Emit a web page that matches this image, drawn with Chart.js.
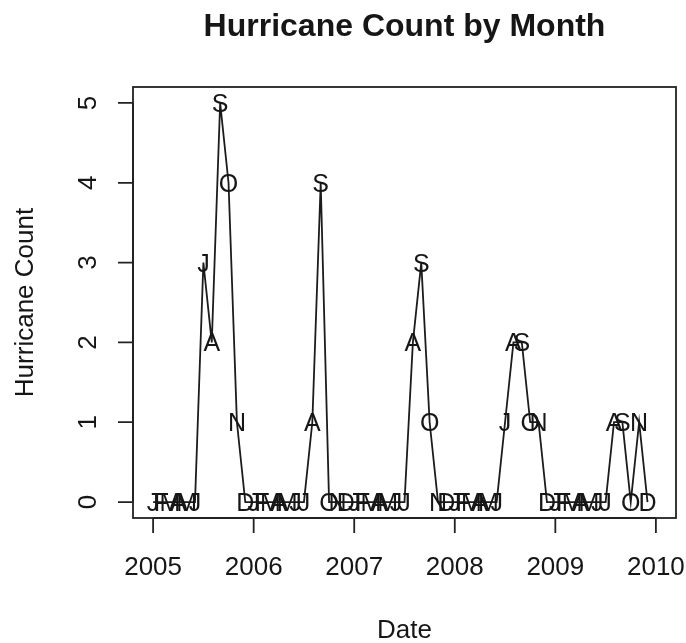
<!DOCTYPE html>
<html>
<head>
<meta charset="utf-8">
<script src="https://cdn.jsdelivr.net/npm/chart.js@4.4.1/dist/chart.umd.min.js"></script>
<style>
  body { margin: 0; background: #fff; }
  canvas { display: block; }
</style>
</head>
<body>
<canvas id="hurricanes" width="686" height="643"></canvas>
<script>
// monthly hurricane counts, one array per year
const years = [2005, 2006, 2007, 2008, 2009];
const monthLetters = ["J", "F", "M", "A", "M", "J", "J", "A", "S", "O", "N", "D"];
const counts2005 = [0, 0, 0, 0, 0, 0, 3, 2, 5, 4, 1, 0];
const counts2006 = [0, 0, 0, 0, 0, 0, 0, 1, 4, 0, 0, 0];
const counts2007 = [0, 0, 0, 0, 0, 0, 0, 2, 3, 1, 0, 0];
const counts2008 = [0, 0, 0, 0, 0, 0, 1, 2, 2, 1, 1, 0];
const counts2009 = [0, 0, 0, 0, 0, 0, 0, 1, 1, 0, 1, 0];
const yTicks = [0, 1, 2, 3, 4, 5];
const xTicks = [2005, 2006, 2007, 2008, 2009, 2010];

const countsByYear = [counts2005, counts2006, counts2007, counts2008, counts2009];
const points = [];
const letters = [];
years.forEach((yr, yi) => {
    countsByYear[yi].forEach((n, m) => {
        points.push({ x: yr + m / 12, y: n });
        letters.push(monthLetters[m]);
    });
});

const FONT = '"Liberation Sans", Arial, sans-serif';
const INK = "#161616";

// month letters drawn on top of the line (like R's type = "o")
const letterMarks = {
    id: "letterMarks",
    afterDatasetsDraw(chart) {
        const ctx = chart.ctx;
        const meta = chart.getDatasetMeta(0);
        ctx.save();
        ctx.fillStyle = INK;
        ctx.font = "25px " + FONT;
        ctx.textAlign = "center";
        ctx.textBaseline = "alphabetic";
        meta.data.forEach((pt, i) => {
            ctx.fillText(letters[i], pt.x, pt.y + 9);
        });
        ctx.restore();
    }
};

// box, ticks and labels in the style of base R graphics
const rAxes = {
    id: "rAxes",
    afterDraw(chart) {
        const ctx = chart.ctx;
        const a = chart.chartArea;
        const xs = chart.scales.x;
        const ys = chart.scales.y;
        const cx = (a.left + a.right) / 2;
        ctx.save();
        ctx.strokeStyle = "#222";
        ctx.lineWidth = 1.8;
        ctx.strokeRect(a.left, a.top, a.right - a.left, a.bottom - a.top);

        ctx.fillStyle = INK;
        ctx.font = "26px " + FONT;

        // x axis
        ctx.beginPath();
        ctx.moveTo(xs.getPixelForValue(xTicks[0]), a.bottom);
        ctx.lineTo(xs.getPixelForValue(xTicks[xTicks.length - 1]), a.bottom);
        xTicks.forEach(t => {
            const px = xs.getPixelForValue(t);
            ctx.moveTo(px, a.bottom);
            ctx.lineTo(px, a.bottom + 15);
        });
        ctx.stroke();
        ctx.textAlign = "center";
        xTicks.forEach(t => {
            ctx.fillText(String(t), xs.getPixelForValue(t), a.bottom + 57);
        });

        // y axis
        ctx.beginPath();
        ctx.moveTo(a.left, ys.getPixelForValue(yTicks[0]));
        ctx.lineTo(a.left, ys.getPixelForValue(yTicks[yTicks.length - 1]));
        yTicks.forEach(t => {
            const py = ys.getPixelForValue(t);
            ctx.moveTo(a.left, py);
            ctx.lineTo(a.left - 15, py);
        });
        ctx.stroke();
        yTicks.forEach(t => {
            ctx.save();
            ctx.translate(a.left - 37, ys.getPixelForValue(t));
            ctx.rotate(-Math.PI / 2);
            ctx.fillText(String(t), 0, 0);
            ctx.restore();
        });

        // axis titles
        ctx.fillText("Date", cx, 638);
        ctx.save();
        ctx.translate(33, (a.top + a.bottom) / 2);
        ctx.rotate(-Math.PI / 2);
        ctx.fillText("Hurricane Count", 0, 0);
        ctx.restore();

        // main title
        ctx.font = "bold 32px " + FONT;
        ctx.fillText("Hurricane Count by Month", cx, 36);
        ctx.restore();
    }
};

new Chart(document.getElementById("hurricanes").getContext("2d"), {
    type: "line",
    data: {
        datasets: [{
            data: points,
            borderColor: "#1c1c1c",
            borderWidth: 1.8,
            tension: 0,
            pointRadius: 0,
            fill: false
        }]
    },
    options: {
        responsive: false,
        animation: false,
        layout: { padding: { left: 133, right: 10, top: 87, bottom: 125 } },
        scales: {
            x: { type: "linear", min: 2004.8, max: 2010.2, display: false },
            y: { min: -0.2, max: 5.2, display: false }
        },
        plugins: {
            legend: { display: false },
            tooltip: { enabled: false }
        }
    },
    plugins: [letterMarks, rAxes]
});
</script>
</body>
</html>
